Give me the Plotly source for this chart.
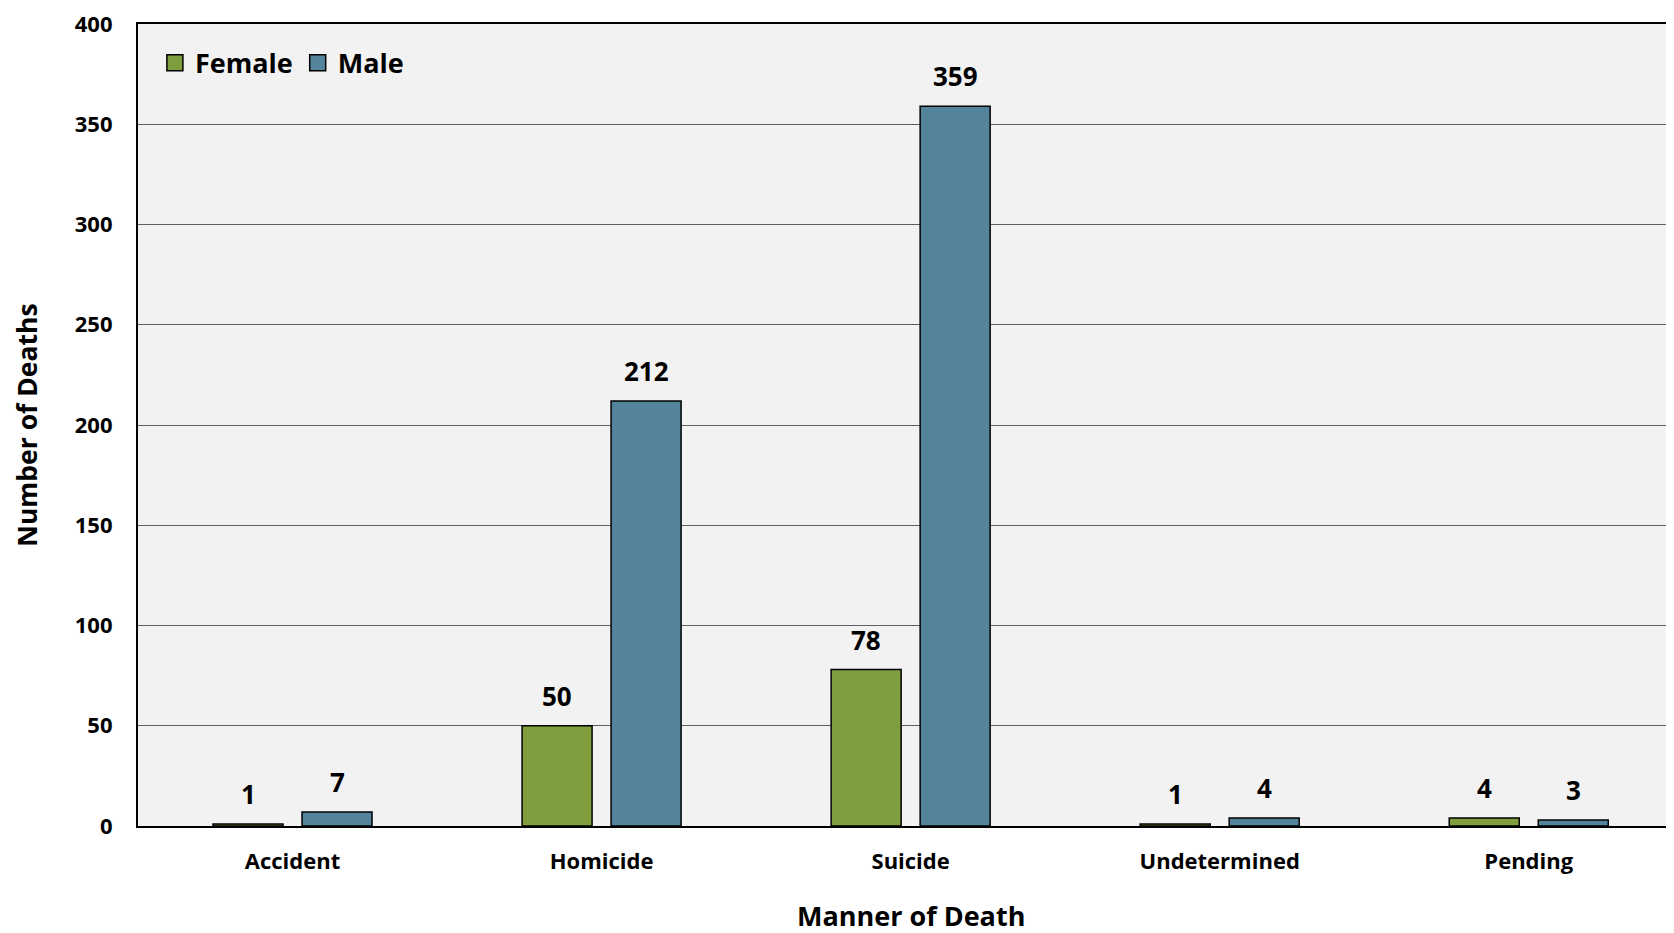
import plotly.graph_objects as go

categories = ["Accident", "Homicide", "Suicide", "Undetermined", "Pending"]
female = [1, 50, 78, 1, 4]
male = [7, 212, 359, 4, 3]
y_ticks = [0, 50, 100, 150, 200, 250, 300, 350, 400]
x_title = "Manner of Death"
y_title = "Number of Deaths"

GREEN = "#7F9F3F"
BLUE = "#54849C"
FONT = "Open Sans"

x_idx = list(range(len(categories)))
bw = 0.2265
off = 0.144

fig = go.Figure()
fig.add_trace(go.Bar(
    name="Female", x=x_idx, y=female, width=bw, offset=-off - bw / 2,
    marker=dict(color=GREEN, line=dict(color="black", width=1.5)),
    showlegend=False,
))
fig.add_trace(go.Bar(
    name="Male", x=x_idx, y=male, width=bw, offset=off - bw / 2,
    marker=dict(color=BLUE, line=dict(color="black", width=1.5)),
    showlegend=False,
))
# legend swatches
for name, col in (("Female", GREEN), ("Male", BLUE)):
    fig.add_trace(go.Scatter(
        name=name, x=[None], y=[None], mode="markers",
        marker=dict(symbol="square", size=20, color=col,
                    line=dict(color="black", width=1.5)),
        showlegend=True,
    ))

for series, sign in ((female, -1), (male, 1)):
    for i, v in enumerate(series):
        fig.add_annotation(
            x=i + sign * off, y=v, text=str(v), showarrow=False,
            yanchor="bottom", yshift=10, xref="x", yref="y",
            font=dict(family=FONT, size=26, color="black", weight="bold"),
        )

# axis titles
fig.add_annotation(
    x=0.503, y=-0.111, xref="paper", yref="paper", text=x_title,
    showarrow=False, xanchor="center", yanchor="middle",
    font=dict(family=FONT, size=27, color="black", weight="bold"),
)
fig.add_annotation(
    x=-0.0725, y=0.5, xref="paper", yref="paper", text=y_title,
    showarrow=False, xanchor="center", yanchor="middle", textangle=-90,
    font=dict(family=FONT, size=26.5, color="black", weight="bold"),
)

fig.update_layout(
    width=1666, height=925,
    margin=dict(l=130, r=0, t=16, b=107),
    paper_bgcolor="white", plot_bgcolor="#F2F2F2",
    barmode="overlay",
    showlegend=True,
    legend=dict(
        orientation="h", x=0.011, y=0.951, xanchor="left", yanchor="middle",
        bgcolor="rgba(0,0,0,0)",
        font=dict(family=FONT, size=27, color="black", weight="bold"),
        itemwidth=30, tracegroupgap=0,
    ),
    font=dict(family=FONT, color="black"),
)

fig.update_xaxes(
    tickvals=x_idx, ticktext=categories,
    range=[-0.5, 4.47], automargin=False,
    showline=True, linecolor="black", linewidth=2.2, mirror=True,
    showgrid=False, zeroline=False,
    ticks="", ticklabelstandoff=14, ticklabeloverflow="allow",
    tickfont=dict(family=FONT, size=22, color="black", weight="bold"),
)
fig.update_yaxes(
    range=[0, 400], tickvals=y_ticks, automargin=False,
    showline=True, linecolor="black", linewidth=2.2,
    showgrid=True, gridcolor="#606060", gridwidth=1.4,
    zeroline=False, ticks="", ticklabelstandoff=19, ticklabeloverflow="allow",
    tickfont=dict(family=FONT, size=22, color="black", weight="bold"),
)

fig.write_html("out.html")
